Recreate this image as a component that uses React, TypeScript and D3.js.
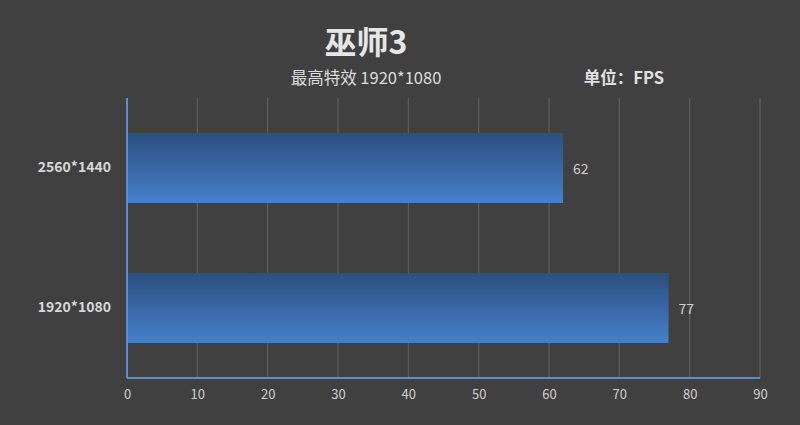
import { useEffect, useRef } from "react";
import * as d3 from "d3";

const TITLE = "巫师3";
const SUBTITLE = "最高特效 1920*1080";
const UNIT = "单位：FPS";
const categories = ["2560*1440", "1920*1080"];
const fps = [62, 77];
const xTicks = [0, 10, 20, 30, 40, 50, 60, 70, 80, 90];

const FONT = "'Microsoft YaHei', 'Noto Sans CJK SC', 'Open Sans', sans-serif";

export default function App() {
  const ref = useRef<SVGSVGElement>(null);

  useEffect(() => {
    if (!ref.current) return;
    const svg = d3.select(ref.current);
    svg.selectAll("*").remove();

    const W = 800;
    const H = 425;
    const m = { top: 98, right: 40, bottom: 47, left: 127 };
    const w = W - m.left - m.right;
    const h = H - m.top - m.bottom;

    svg.attr("viewBox", `0 0 ${W} ${H}`).attr("width", W).attr("height", H);

    svg.append("rect").attr("width", W).attr("height", H).attr("fill", "#404040");

    // Gradient for bars
    const defs = svg.append("defs");
    const grad = defs
      .append("linearGradient")
      .attr("id", "barGrad")
      .attr("x1", 0)
      .attr("y1", 0)
      .attr("x2", 0)
      .attr("y2", 1);
    grad.append("stop").attr("offset", "0%").attr("stop-color", "#2b4f80");
    grad.append("stop").attr("offset", "55%").attr("stop-color", "#3a6aa8");
    grad.append("stop").attr("offset", "100%").attr("stop-color", "#4481cc");

    const x = d3.scaleLinear().domain([0, 90]).range([0, w]);
    const y = d3.scaleBand().domain(categories).range([0, h]).paddingInner(0.5).paddingOuter(0.25);

    const g = svg.append("g").attr("transform", `translate(${m.left},${m.top})`);

    // Gridlines
    g.selectAll("line.grid")
      .data(xTicks.slice(1))
      .join("line")
      .attr("class", "grid")
      .attr("x1", (d) => x(d))
      .attr("x2", (d) => x(d))
      .attr("y1", 0)
      .attr("y2", h)
      .attr("stroke", "#5e5e5e")
      .attr("stroke-width", 1.2);

    // Bars
    g.selectAll("rect.bar")
      .data(fps)
      .join("rect")
      .attr("class", "bar")
      .attr("x", 0)
      .attr("y", (_, i) => y(categories[i])!)
      .attr("width", (d) => x(d))
      .attr("height", y.bandwidth())
      .attr("fill", "url(#barGrad)");

    // Value labels
    g.selectAll("text.val")
      .data(fps)
      .join("text")
      .attr("class", "val")
      .attr("x", (d) => x(d) + 10)
      .attr("y", (_, i) => y(categories[i])! + y.bandwidth() / 2)
      .attr("dominant-baseline", "central")
      .attr("font-family", FONT)
      .attr("font-size", 14)
      .attr("fill", "#d0d0d0")
      .text((d) => d);

    // Axes
    g.append("line")
      .attr("x1", 0)
      .attr("x2", 0)
      .attr("y1", 0)
      .attr("y2", h)
      .attr("stroke", "#5b8ed0")
      .attr("stroke-width", 2);
    g.append("line")
      .attr("x1", 0)
      .attr("x2", w)
      .attr("y1", h)
      .attr("y2", h)
      .attr("stroke", "#5b8ed0")
      .attr("stroke-width", 2);

    g.append("g")
      .attr("transform", `translate(0,${h})`)
      .call(d3.axisBottom(x).tickValues(xTicks).tickSize(0).tickPadding(12))
      .call((a) => {
        a.select(".domain").remove();
        a.selectAll("text")
          .attr("font-family", FONT)
          .attr("font-size", 13)
          .attr("fill", "#cfcfcf");
      });

    g.append("g")
      .call(d3.axisLeft(y).tickSize(0).tickPadding(16))
      .call((a) => {
        a.select(".domain").remove();
        a.selectAll("text")
          .attr("font-family", FONT)
          .attr("font-size", 14)
          .attr("font-weight", "bold")
          .attr("fill", "#d8d8d8");
      });

    // Titles
    svg.append("text")
      .attr("x", 366)
      .attr("y", 40)
      .attr("text-anchor", "middle")
      .attr("dominant-baseline", "central")
      .attr("font-family", FONT)
      .attr("font-size", 32)
      .attr("font-weight", "bold")
      .attr("fill", "#e6e6e6")
      .text(TITLE);
    svg.append("text")
      .attr("x", 366)
      .attr("y", 77)
      .attr("text-anchor", "middle")
      .attr("dominant-baseline", "central")
      .attr("font-family", FONT)
      .attr("font-size", 16.5)
      .attr("fill", "#dcdcdc")
      .text(SUBTITLE);
    svg.append("text")
      .attr("x", 624)
      .attr("y", 77)
      .attr("text-anchor", "middle")
      .attr("dominant-baseline", "central")
      .attr("font-family", FONT)
      .attr("font-size", 16.5)
      .attr("font-weight", "bold")
      .attr("fill", "#e0e0e0")
      .text(UNIT);
  }, []);

  return (
    <div style={{ position: "absolute", left: 0, top: 0, width: 800, height: 425 }}>
      <svg ref={ref} style={{ display: "block" }} />
    </div>
  );
}
